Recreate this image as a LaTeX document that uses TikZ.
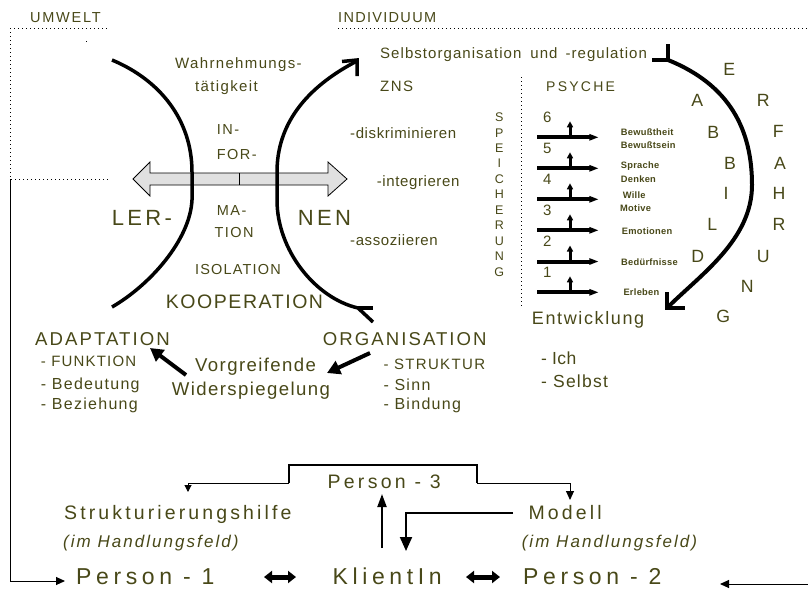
\documentclass[tikz,border=0pt]{standalone}
\usepackage{fontspec}
\setmainfont{Liberation Sans}
\usetikzlibrary{arrows.meta}
\definecolor{txtcol}{RGB}{72,72,24}
\newcommand\fs[2]{\fontsize{#1}{#1}\selectfont\addfontfeature{LetterSpace=#2}}

\begin{document}
\begin{tikzpicture}[x=1pt,y=-1pt,
  lbl/.style={text=txtcol, inner sep=0pt, anchor=base west},
  ltr/.style={text=txtcol, inner sep=0pt, font=\fs{17.7}{0}},
  bow/.style={line width=3.5pt},
  fat/.style={line width=4pt, -{Triangle[length=13pt,width=14pt]}},
  thin/.style={line width=1pt, -{Triangle[length=9pt,width=8pt]}},
  dbl/.style={line width=5pt, {Triangle[length=8pt,width=12pt]}-{Triangle[length=8pt,width=12pt]}},
  dots/.style={line width=1pt, dash pattern=on 1pt off 3pt}]
  \useasboundingbox (0,0) rectangle (808,590);

  %%%%% frames %%%%%
  \draw[dots] (10,28) -- (108,28);
  \draw[dots] (10,28) -- (10,179) -- (110,179);
  \draw[dots] (338,28) -- (808,28);
  \draw[dots] (521.7,77) -- (521.7,308);
  \fill (85.5,40.5) rectangle (87,42);

  \node[lbl, font=\fs{14.5}{12}] (umwelt) at (30,22.5) {UMWELT};
  \node[lbl, font=\fs{14.5}{9}] (indiv) at (338,22.5) {INDIVIDUUM};

  %%%%% lernen %%%%%
  \draw[fill=black!12, line width=0.8pt] (133,179) -- (150,162) -- (150,173) -- (328,173) -- (328,162)
    -- (347,179) -- (328,196) -- (328,185) -- (150,185) -- (150,196) -- cycle;
  \draw[line width=0.8pt] (239,173) -- (239,185);

  \draw[bow] (112,60) .. controls (160,80) and (192,120) .. (192,172) -- (192,200)
    .. controls (190,240) and (150,285) .. (112,307);
  \draw[bow] (373,322) -- (358,308) .. controls (315,298) and (277,250) .. (277,200) -- (277,172)
    .. controls (277,125) and (305,88) .. (357,61);
  \draw[bow, line join=miter] (342,61.5) -- (357,60) -- (357,76);
  \draw[bow] (358,308) -- (373,308);

  \node[lbl, font=\fs{15}{9}] (wahr) at (175,68.3) {Wahrnehmungs-};
  \node[lbl, font=\fs{15}{9}] (taet) at (195,91.7) {tätigkeit};
  \node[lbl, font=\fs{14.5}{10}] (in) at (216.7,134.3) {IN-};
  \node[lbl, font=\fs{14.5}{10}] (for) at (216.7,159.3) {FOR-};
  \node[lbl, font=\fs{14.5}{10}] (ma) at (216.7,215) {MA-};
  \node[lbl, font=\fs{14.5}{10}] (tion) at (214.3,237.3) {TION};
  \node[lbl, font=\fs{14.5}{8}] (iso) at (195,274.3) {ISOLATION};
  \node[lbl, font=\fs{19.5}{8}] (koop) at (165.7,308.3) {KOOPERATION};
  \node[lbl, font=\fs{22}{15}] (ler) at (111.7,225) {LER-};
  \node[lbl, font=\fs{22}{15}] (nen) at (297.7,225) {NEN};

  \node[lbl, font=\fs{15}{7}] (selbst) at (380,58.3) {Selbstorganisation\hspace{9pt}und\hspace{8pt}-regulation};
  \node[lbl, font=\fs{15}{10}] (zns) at (380,91) {ZNS};
  \node[lbl, font=\fs{15}{4}] (disk) at (350,138.3) {-diskriminieren};
  \node[lbl, font=\fs{15}{4}] (integ) at (376.7,186) {-integrieren};
  \node[lbl, font=\fs{15}{4}] (asso) at (350,245.7) {-assoziieren};

  %%%%% adaptation / organisation %%%%%
  \node[lbl, font=\fs{18.6}{11}] (adapt) at (35,345) {ADAPTATION};
  \node[lbl, font=\fs{15}{8}] at (40.7,366.7) {- FUNKTION};
  \node[lbl, font=\fs{16}{8}] at (40.7,389.3) {- Bedeutung};
  \node[lbl, font=\fs{16}{8}] at (40.7,409.3) {- Beziehung};
  \node[lbl, font=\fs{18.6}{7.5}] (vorg) at (195,371) {Vorgreifende};
  \node[lbl, font=\fs{18.6}{7.5}] (wider) at (171.7,395) {Widerspiegelung};
  \node[lbl, font=\fs{18.6}{11}] (organ) at (322.7,345) {ORGANISATION};
  \node[lbl, font=\fs{15}{9}] at (383.3,369.3) {- STRUKTUR};
  \node[lbl, font=\fs{16}{8}] at (383.3,390) {- Sinn};
  \node[lbl, font=\fs{16}{8}] at (383.3,409.3) {- Bindung};
  \draw[fat] (186,375) -- (150,348);
  \draw[fat] (370,353) -- (327,373);

  %%%%% psyche %%%%%
  \node[lbl, font=\fs{14}{16}] (psyche) at (546,91) {PSYCHE};
  \foreach \c [count=\i] in {S,P,E,I,C,H,E,R,U,N,G}
    \node[text=txtcol, inner sep=0pt, font=\fs{12.5}{0}] (sp\i) at (499.3,{117.3+15.44*(\i-1)}) {\c};
  \foreach \n/\y in {6/137.3,5/168.3,4/199.3,3/230.3,2/261.5,1/292.3} {
    \draw[line width=4pt, -{Triangle[length=14pt,width=5pt]}] (537,\y) -- (603.3,\y);
    \draw[line width=3pt, -{Triangle[length=6pt,width=6pt]}] (570,\y) -- (570,\y-16);
    \node[text=txtcol, inner sep=0pt, anchor=base, font=\fs{15}{0}] (nr\n) at (547.3,\y-14.6) {\n};
  }
  \node[lbl, font=\fs{9.3}{3}\bfseries] at (620.7,135) {Bewußtheit};
  \node[lbl, font=\fs{9.3}{3}\bfseries] at (620.7,148.3) {Bewußtsein};
  \node[lbl, font=\fs{9.3}{3}\bfseries] at (620.7,168.7) {Sprache};
  \node[lbl, font=\fs{9.3}{3}\bfseries] at (620.7,182.7) {Denken};
  \node[lbl, font=\fs{9.3}{3}\bfseries] at (622.7,198.3) {Wille};
  \node[lbl, font=\fs{9.3}{3}\bfseries] at (620,211.3) {Motive};
  \node[lbl, font=\fs{9.3}{3}\bfseries] at (621.7,234.3) {Emotionen};
  \node[lbl, font=\fs{9.3}{3}\bfseries] at (621,265.3) {Bedürfnisse};
  \node[lbl, font=\fs{9.3}{3}\bfseries] at (623.3,295.7) {Erleben};

  \node[lbl, font=\fs{18}{9}] (entw) at (531.7,324) {Entwicklung};
  \node[lbl, font=\fs{17.5}{2}] at (541,364.3) {- Ich};
  \node[lbl, font=\fs{17.5}{7}] at (541,387.3) {- Selbst};

  %%%%% erfahrung %%%%%
  \draw[line width=4pt, line join=miter] (652,60) -- (668,60) -- (668,44);
  \draw[line width=4pt] (668,60) .. controls (730,85) and (752,130) .. (752,185)
    .. controls (752,240) and (700,275) .. (667,308);
  \draw[line width=3.5pt, line join=miter] (667,292) -- (667,308) -- (685,308);
  \foreach \x/\y/\c [count=\i] in {729.3/69.7/E,763.3/100.8/R,778.3/131.3/F,780/163/A,779/193.7/H,
      779/224.3/R,763.3/256/U,747.3/286.7/N,723.3/316.7/G}
    \node[ltr] (erf\i) at (\x,\y) {\c};
  \foreach \x/\y/\c [count=\i] in {697.3/100.2/A,713.3/132.2/B,730/163/B,726/193.3/I,712.3/224.7/L,697.7/256/D}
    \node[ltr] (abb\i) at (\x,\y) {\c};

  %%%%% persons %%%%%
  \node[lbl, font=\fs{19.5}{17}] (p3) at (327.3,488.3) {Person - 3};
  \node[lbl, font=\fs{19.5}{16}] (struk) at (64,519.3) {Strukturierungshilfe};
  \node[lbl, font=\fs{17}{12}\itshape] (hf1) at (63,547.3) {(im Handlungsfeld)};
  \node[lbl, font=\fs{19.5}{16}] (modell) at (528.4,519.3) {Modell};
  \node[lbl, font=\fs{17}{12}\itshape] (hf2) at (521.6,547.3) {(im Handlungsfeld)};
  \node[lbl, font=\fs{23}{20}] (p1) at (76,584.5) {Person - 1};
  \node[lbl, font=\fs{23}{20}] (kl) at (332.5,584.5) {KlientIn};
  \node[lbl, font=\fs{23}{20}] (p2) at (523,584.5) {Person - 2};

  \coordinate (umw) at (10,179);
  \coordinate (rand) at (808,584);
  \draw[line width=2.5pt, line join=miter] (289,483) |- (477,465) -- (477,483);
  \draw[thin, -{Triangle[length=7pt,width=7pt]}] (289,483) -| (188,492);
  \draw[thin] (477,483) -| (570,500);
  \draw[line width=2pt, -{Triangle[length=13pt,width=9pt]}] (382,548) -- (382,494);
  \draw[line width=2pt, -{Triangle[length=14pt,width=12pt]}] (513,512.7) -| (406,551);
  \draw[thin] (umw) |- (65,581);
  \draw[thin] (rand) -- (720,584);
  \draw[dbl] (264,577) -- (296,577);
  \draw[dbl] (466,577) -- (500,577);
\end{tikzpicture}
\end{document}
